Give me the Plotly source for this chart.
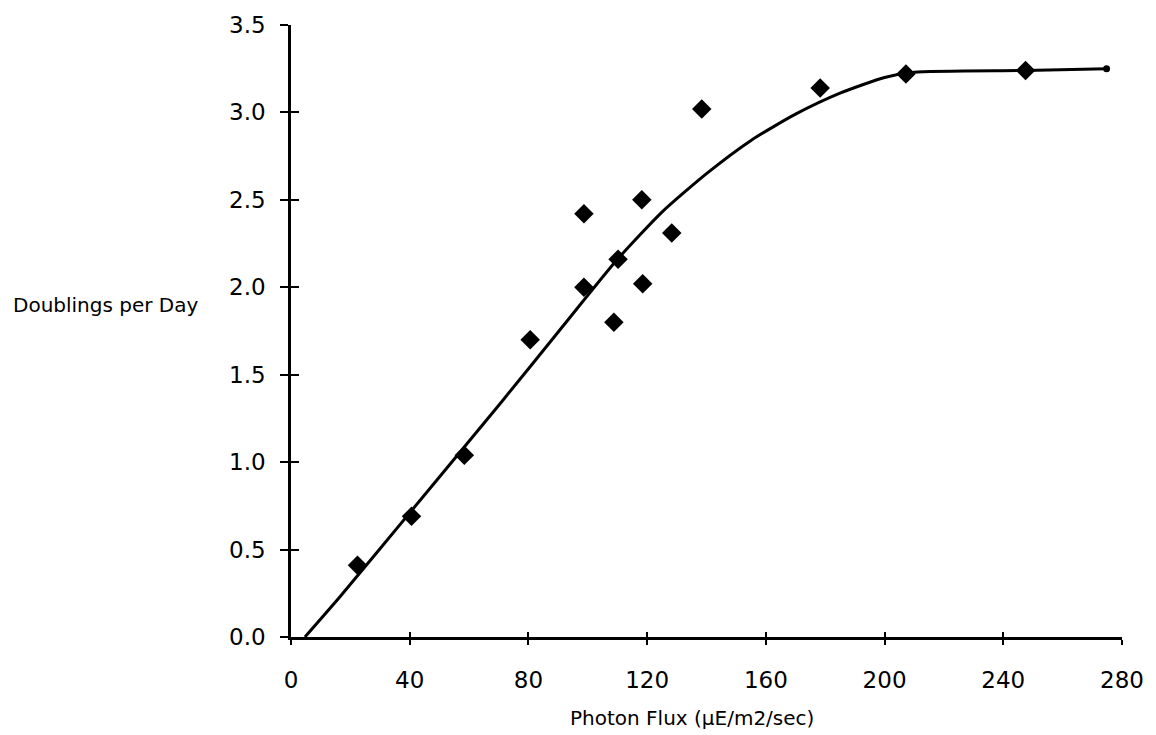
import plotly.graph_objects as go

# Measured data points (photon flux, doublings per day)
flux = [22.4, 40.6, 58.4, 80.6, 98.7, 98.7, 108.8, 110.2, 118.2, 118.5, 128.3, 138.4, 178.3, 207.2, 247.5]
doublings = [0.41, 0.69, 1.04, 1.70, 2.42, 2.00, 1.80, 2.16, 2.50, 2.02, 2.31, 3.02, 3.14, 3.22, 3.24]

# Fitted curve
curve_x = [4.7, 16.5, 40, 71.2, 90.3, 110, 125, 140, 155, 170, 185, 200, 210, 247.5, 274.8]
curve_y = [0.0, 0.23, 0.71, 1.35, 1.75, 2.16, 2.43, 2.65, 2.84, 2.99, 3.11, 3.20, 3.23, 3.24, 3.25]

x_ticks = [0, 40, 80, 120, 160, 200, 240, 280]
y_ticks = [0.0, 0.5, 1.0, 1.5, 2.0, 2.5, 3.0, 3.5]
y_tick_text = ["0.0", "0.5", "1.0", "1.5", "2.0", "2.5", "3.0", "3.5"]

FONT = "DejaVu Sans"

fig = go.Figure()
fig.add_trace(go.Scatter(x=curve_x, y=curve_y, mode="lines",
                         line=dict(color="black", width=3, shape="spline", smoothing=0.6),
                         hoverinfo="skip", showlegend=False))
fig.add_trace(go.Scatter(x=curve_x[-1:], y=curve_y[-1:], mode="markers",
                         marker=dict(color="black", size=7, symbol="circle"),
                         showlegend=False))
fig.add_trace(go.Scatter(x=flux, y=doublings, mode="markers",
                         marker=dict(color="black", size=15, symbol="diamond"),
                         showlegend=False))

axis_common = dict(showgrid=False, zeroline=False, showline=True, linecolor="black",
                   linewidth=2.5, tickcolor="black", tickwidth=2,
                   tickfont=dict(family=FONT, size=23, color="black"))

fig.update_layout(
    width=1156, height=735,
    margin=dict(l=291, r=32, t=25, b=98),
    paper_bgcolor="white", plot_bgcolor="white",
    xaxis=dict(range=[0, 280], tickvals=x_ticks, ticks="outside", ticklen=5,
               ticklabelstandoff=16, **axis_common),
    yaxis=dict(range=[0, 3.5], tickvals=y_ticks, ticktext=y_tick_text, ticks="outside",
               ticklen=8, ticklabelstandoff=10, **axis_common),
    xaxis2=dict(range=[0, 280], tickvals=x_ticks, ticks="inside", ticklen=5,
                showticklabels=False, overlaying="x", anchor="y", side="bottom",
                showgrid=False, zeroline=False, showline=False,
                tickcolor="black", tickwidth=2),
    yaxis2=dict(range=[0, 3.5], tickvals=y_ticks, ticks="inside", ticklen=8,
                showticklabels=False, overlaying="y", anchor="x", side="left",
                showgrid=False, zeroline=False, showline=False,
                tickcolor="black", tickwidth=2),
    annotations=[
        dict(text="Doublings per Day", xref="paper", yref="paper",
             x=-0.337, y=0.5425, xanchor="left", yanchor="middle",
             showarrow=False, font=dict(family=FONT, size=20, color="black")),
        dict(text="Photon Flux (µE/m2/sec)", xref="paper", yref="paper",
             x=0.4826, y=-0.132, xanchor="center", yanchor="middle",
             showarrow=False, font=dict(family=FONT, size=20, color="black")),
    ],
)
# invisible trace to activate the overlay axes for inside tick marks
fig.add_trace(go.Scatter(x=[0], y=[0], xaxis="x2", yaxis="y2", mode="markers",
                         marker=dict(opacity=0), hoverinfo="skip", showlegend=False))

fig.write_html("out.html")
